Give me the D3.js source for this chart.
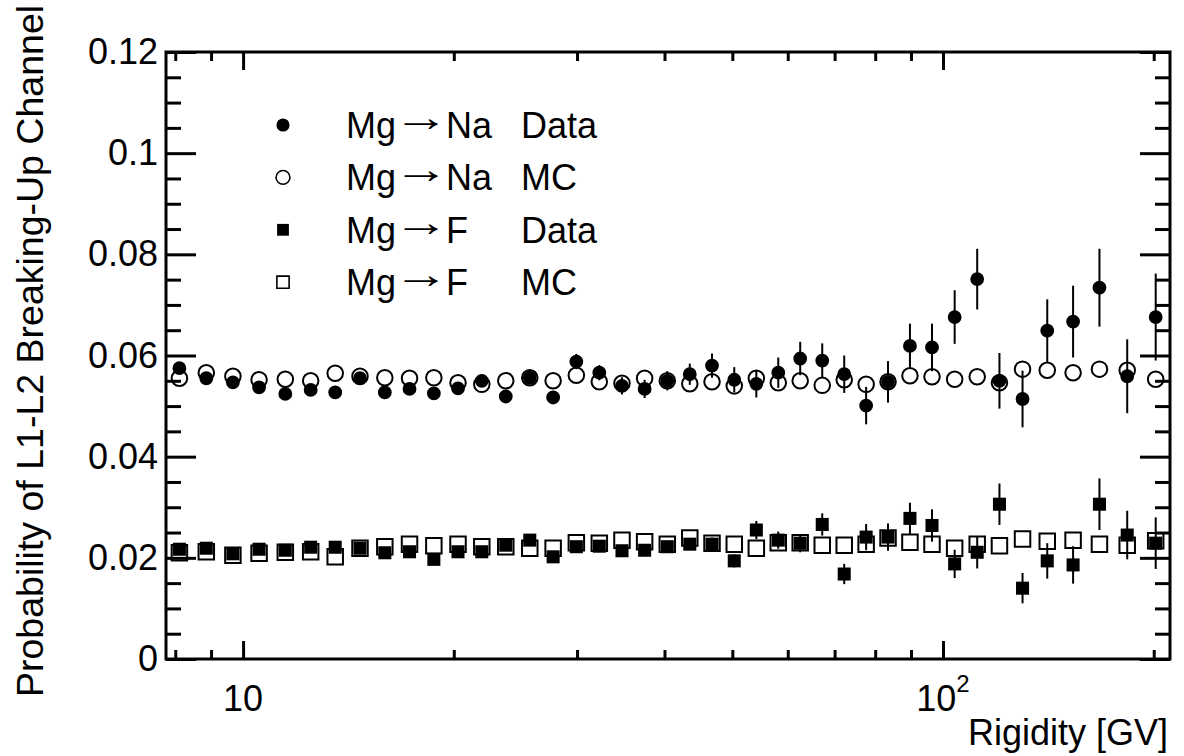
<!DOCTYPE html>
<html>
<head>
<style>
  html, body { margin: 0; padding: 0; background: #fff; overflow: hidden; }
  text { font-family: "Liberation Sans", Arial, Helvetica, sans-serif; fill: #000; }
</style>
</head>
<body>
<script src="https://d3js.org/d3.v7.min.js"></script>
<script>
// rigidity bin centres [GV]
const rigidity = [8.11, 8.86, 9.67, 10.54, 11.49, 12.49, 13.54, 14.69, 15.94, 17.29,
    18.73, 20.28, 21.93, 23.73, 25.68, 27.73, 29.93, 32.28, 34.78, 37.47,
    40.37, 43.47, 46.77, 50.32, 54.11, 58.16, 62.51, 67.21, 72.25, 77.65,
    83.45, 89.69, 96.44, 103.9, 111.9, 120.4, 129.9, 140.9, 153.4, 167.3,
    183.3, 201.3];

// Mg -> Na, data
const naData = [0.0575, 0.0555, 0.0547, 0.0537, 0.0524, 0.0532, 0.0527, 0.0555, 0.0527, 0.0534,
    0.0525, 0.0535, 0.0550, 0.0519, 0.0556, 0.0517, 0.0588, 0.0566, 0.0540, 0.0534,
    0.0550, 0.0563, 0.0580, 0.0552, 0.0544, 0.0566, 0.0594, 0.0590, 0.0563, 0.0501,
    0.0548, 0.0619, 0.0616, 0.0676, 0.0751, 0.0550, 0.0514, 0.0649, 0.0667, 0.0734,
    0.0559, 0.0676];
const naDataErr = [0.0006, 0.0006, 0.0006, 0.0006, 0.0007, 0.0007, 0.0007, 0.0008, 0.0008, 0.0008,
    0.0009, 0.0009, 0.0010, 0.0012, 0.0012, 0.0013, 0.0015, 0.0015, 0.0017, 0.0018,
    0.0019, 0.0021, 0.0024, 0.0025, 0.0027, 0.0030, 0.0033, 0.0034, 0.0037, 0.0037,
    0.0041, 0.0044, 0.0047, 0.0053, 0.0060, 0.0055, 0.0056, 0.0062, 0.0071, 0.0077,
    0.0073, 0.0086];
// Mg -> Na, MC
const naMC = [0.0555, 0.0566, 0.0559, 0.0552, 0.0553, 0.0550, 0.0565, 0.0559, 0.0556, 0.0555,
    0.0556, 0.0546, 0.0543, 0.0550, 0.0556, 0.0550, 0.0561, 0.0548, 0.0545, 0.0555,
    0.0550, 0.0544, 0.0548, 0.0540, 0.0555, 0.0546, 0.0550, 0.0541, 0.0552, 0.0543,
    0.0548, 0.0560, 0.0558, 0.0553, 0.0558, 0.0546, 0.0573, 0.0571, 0.0566, 0.0573,
    0.0571, 0.0553];

// Mg -> F, data
const fData = [0.0217, 0.0219, 0.0208, 0.0217, 0.0215, 0.0221, 0.0221, 0.0219, 0.0210, 0.0212,
    0.0197, 0.0212, 0.0212, 0.0225, 0.0235, 0.0202, 0.0222, 0.0223, 0.0214, 0.0215,
    0.0222, 0.0227, 0.0227, 0.0194, 0.0255, 0.0235, 0.0229, 0.0266, 0.0168, 0.0241,
    0.0241, 0.0278, 0.0264, 0.0188, 0.0211, 0.0306, 0.0140, 0.0194, 0.0186, 0.0306,
    0.0245, 0.0229];
const fDataErr = [0.0005, 0.0005, 0.0005, 0.0005, 0.0005, 0.0006, 0.0006, 0.0006, 0.0006, 0.0007,
    0.0007, 0.0007, 0.0008, 0.0008, 0.0009, 0.0009, 0.0010, 0.0010, 0.0011, 0.0011,
    0.0012, 0.0012, 0.0013, 0.0013, 0.0018, 0.0017, 0.0018, 0.0022, 0.0020, 0.0026,
    0.0027, 0.0031, 0.0032, 0.0028, 0.0032, 0.0041, 0.0030, 0.0035, 0.0037, 0.0051,
    0.0048, 0.0051];
// Mg -> F, MC
const fMC = [0.0210, 0.0212, 0.0205, 0.0209, 0.0211, 0.0212, 0.0202, 0.0219, 0.0222, 0.0227,
    0.0224, 0.0227, 0.0222, 0.0222, 0.0219, 0.0219, 0.0230, 0.0229, 0.0235, 0.0232,
    0.0227, 0.0239, 0.0229, 0.0227, 0.0219, 0.0230, 0.0230, 0.0225, 0.0225, 0.0227,
    0.0239, 0.0231, 0.0227, 0.0219, 0.0227, 0.0224, 0.0237, 0.0233, 0.0235, 0.0227,
    0.0225, 0.0234];

const yTickValues = [0, 0.02, 0.04, 0.06, 0.08, 0.1, 0.12];
const yTickLabels = ["0", "0.02", "0.04", "0.06", "0.08", "0.1", "0.12"];
const xLabelValues = [10, 100];

const legendEntries = [
    {symbol: "dot", from: "Mg", to: "Na", tag: "Data"},
    {symbol: "ring", from: "Mg", to: "Na", tag: "MC"},
    {symbol: "box", from: "Mg", to: "F", tag: "Data"},
    {symbol: "frame", from: "Mg", to: "F", tag: "MC"}
];

const width = 1184, height = 756;
const plot = {left: 166, right: 1170, top: 52, bottom: 659};

const svg = d3.select("body").append("svg")
    .attr("width", width)
    .attr("height", height);

const x = d3.scaleLog().domain([7.76, 211]).range([plot.left, plot.right]);
const y = d3.scaleLinear().domain([0, 0.12]).range([plot.bottom, plot.top]);

// marker shapes
const markers = {
    dot:   {type: d3.symbolCircle, size: 150, fill: "#000", stroke: "none"},
    ring:  {type: d3.symbolCircle, size: 190, fill: "none", stroke: "#000"},
    box:   {type: d3.symbolSquare, size: 170, fill: "#000", stroke: "none"},
    frame: {type: d3.symbolSquare, size: 240, fill: "none", stroke: "#000"}
};

// ticks ---------------------------------------------------------------
const yMinor = d3.range(0, 0.1201, 0.005).filter(v => Math.abs(v / 0.02 - Math.round(v / 0.02)) > 0.01);
const xMinor = x.ticks().filter(v => !xLabelValues.includes(v));

function styleAxis(g) {
    g.select(".domain").remove();
    g.selectAll(".tick line").attr("stroke", "#000").attr("stroke-width", 3);
    g.selectAll("text").attr("font-size", 36).attr("fill", "#000")
        .style("font-family", '"Liberation Sans", Arial, sans-serif');
}

svg.append("g").attr("transform", `translate(${plot.left},0)`)
    .call(d3.axisLeft(y).tickValues(yTickValues).tickSize(-30).tickPadding(8)
        .tickFormat((d, i) => yTickLabels[i]))
    .call(styleAxis);
svg.append("g").attr("transform", `translate(${plot.left},0)`)
    .call(d3.axisLeft(y).tickValues(yMinor).tickSize(-15).tickFormat(""))
    .call(styleAxis);
svg.append("g").attr("transform", `translate(${plot.right},0)`)
    .call(d3.axisRight(y).tickValues(yTickValues).tickSize(-30).tickFormat(""))
    .call(styleAxis);
svg.append("g").attr("transform", `translate(${plot.right},0)`)
    .call(d3.axisRight(y).tickValues(yMinor).tickSize(-15).tickFormat(""))
    .call(styleAxis);

svg.append("g").attr("transform", `translate(0,${plot.bottom})`)
    .call(d3.axisBottom(x).tickValues(xLabelValues).tickSize(-18).tickFormat(""))
    .call(styleAxis);
svg.append("g").attr("transform", `translate(0,${plot.bottom})`)
    .call(d3.axisBottom(x).tickValues(xMinor).tickSize(-9).tickFormat(""))
    .call(styleAxis);
svg.append("g").attr("transform", `translate(0,${plot.top})`)
    .call(d3.axisTop(x).tickValues(xLabelValues).tickSize(-18).tickFormat(""))
    .call(styleAxis);
svg.append("g").attr("transform", `translate(0,${plot.top})`)
    .call(d3.axisTop(x).tickValues(xMinor).tickSize(-9).tickFormat(""))
    .call(styleAxis);

// x tick labels: 10 and 10^2
const xl = svg.append("g").attr("font-size", 36).attr("text-anchor", "middle");
xl.append("text").attr("x", x(10)).attr("y", 711).text("10");
const t2 = xl.append("text").attr("x", x(100)).attr("y", 711);
t2.append("tspan").text("10");
t2.append("tspan").attr("dy", -19).attr("font-size", 24).text("2");

// frame
svg.append("rect")
    .attr("x", plot.left).attr("y", plot.top)
    .attr("width", plot.right - plot.left).attr("height", plot.bottom - plot.top)
    .attr("fill", "none").attr("stroke", "#000").attr("stroke-width", 3);

// axis titles
svg.append("text")
    .attr("transform", "translate(43,697) rotate(-90)")
    .attr("text-anchor", "start")
    .attr("font-size", 37.5)
    .text("Probability of L1-L2 Breaking-Up Channel");
svg.append("text")
    .attr("x", 1168).attr("y", 745)
    .attr("text-anchor", "end")
    .attr("font-size", 36)
    .text("Rigidity [GV]");

// data ------------------------------------------------------------------
function drawSeries(values, errors, kind) {
    const m = markers[kind];
    const g = svg.append("g");
    if (errors) {
        g.selectAll("line")
            .data(values)
            .join("line")
            .attr("x1", (d, i) => x(rigidity[i]))
            .attr("x2", (d, i) => x(rigidity[i]))
            .attr("y1", (d, i) => y(d - errors[i]))
            .attr("y2", (d, i) => y(d + errors[i]))
            .attr("stroke", "#000")
            .attr("stroke-width", 2);
    }
    g.selectAll("path")
        .data(values)
        .join("path")
        .attr("transform", (d, i) => `translate(${x(rigidity[i])},${y(d)})`)
        .attr("d", d3.symbol().type(m.type).size(m.size))
        .attr("fill", m.fill)
        .attr("stroke", m.stroke)
        .attr("stroke-width", 2);
}

drawSeries(naData, naDataErr, "dot");
drawSeries(fData, fDataErr, "box");
drawSeries(naMC, null, "ring");
drawSeries(fMC, null, "frame");

// legend ----------------------------------------------------------------
const legend = svg.append("g").attr("font-size", 36);
const rowY = i => 125 + i * 52.4;

legend.selectAll("path")
    .data(legendEntries)
    .join("path")
    .attr("transform", (d, i) => `translate(283,${rowY(i)})`)
    .attr("d", d => d3.symbol().type(markers[d.symbol].type)
        .size(d.symbol === "dot" ? 135 : d.symbol === "box" ? 140 : 150)())
    .attr("fill", d => markers[d.symbol].fill)
    .attr("stroke", d => markers[d.symbol].stroke)
    .attr("stroke-width", 1.6);

legend.selectAll("text.from")
    .data(legendEntries)
    .join("text")
    .attr("class", "from")
    .attr("x", 346).attr("y", (d, i) => rowY(i) + 13)
    .text(d => d.from);
legend.selectAll("text.arrow")
    .data(legendEntries)
    .join("text")
    .attr("class", "arrow")
    .attr("x", 393).attr("y", (d, i) => rowY(i) + 6)
    .attr("font-size", 40)
    .attr("textLength", 56)
    .attr("lengthAdjust", "spacingAndGlyphs")
    .text("\u2192");
legend.selectAll("text.to")
    .data(legendEntries)
    .join("text")
    .attr("class", "to")
    .attr("x", 446).attr("y", (d, i) => rowY(i) + 13)
    .text(d => d.to);
legend.selectAll("text.tag")
    .data(legendEntries)
    .join("text")
    .attr("class", "tag")
    .attr("x", 521).attr("y", (d, i) => rowY(i) + 13)
    .text(d => d.tag);
</script>
</body>
</html>
